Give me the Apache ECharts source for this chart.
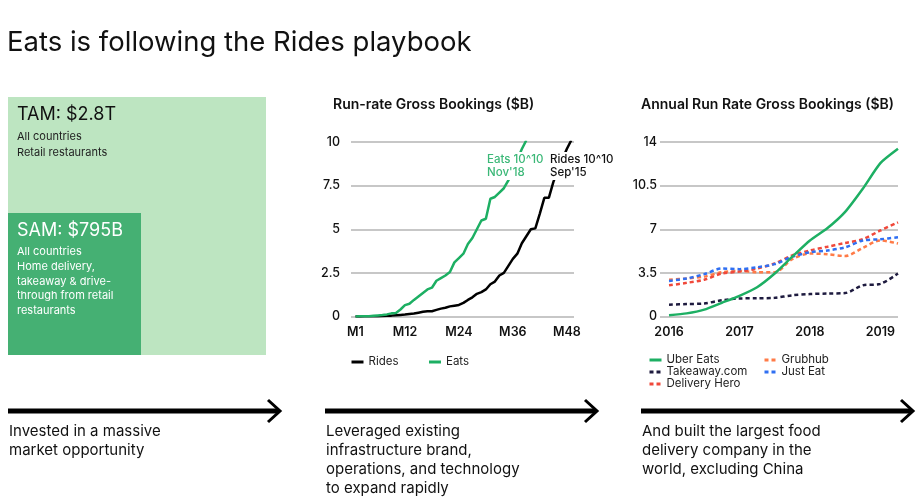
<!DOCTYPE html>
<html><head><meta charset="utf-8">
<script src="https://cdn.jsdelivr.net/npm/echarts@6/dist/echarts.min.js"></script>
<style>html,body{margin:0;padding:0;background:#fff}#c{width:921px;height:499px}</style>
</head><body><div id="c"></div>
<script>
// ---- Left panel: market sizes ($B)
const tamValue = 2800;
const samValue = 795;

// ---- Middle chart: monthly run-rate gross bookings ($B)
const months = [1,2,3,4,5,6,7,8,9,10,11,12,13,14,15,16,17,18,19,20,21,22,23,24,25,26,27,28,29,30,31,32,33,34,35,36,37,38,39,40,41,42,43,44,45,46,47,48,49];
const ridesValues = [0,0,0.01,0.01,0.02,0.02,0.03,0.04,0.05,0.07,0.09,0.11,0.14,0.17,0.22,0.27,0.3,0.3,0.38,0.45,0.5,0.58,0.62,0.66,0.78,0.95,1.1,1.3,1.4,1.55,1.85,2.0,2.35,2.5,2.9,3.3,3.6,4.2,4.6,5.0,5.05,5.9,6.8,6.8,7.7,8.4,9.0,9.6,10.1];
const eatsValues = [0,0.01,0.01,0.02,0.04,0.06,0.08,0.12,0.18,0.2,0.4,0.65,0.73,0.95,1.15,1.35,1.55,1.65,2.05,2.2,2.35,2.55,3.1,3.35,3.6,4.15,4.5,5.0,5.5,5.6,6.75,6.85,7.1,7.35,7.8,8.4,9.0,9.6,10.1];
const monthTicks = [1,12,24,36,48];

// ---- Right chart: quarterly annual run-rate gross bookings ($B)
const quarters = [2016,2016.25,2016.5,2016.75,2017,2017.25,2017.5,2017.75,2018,2018.25,2018.5,2018.75,2019,2019.25];
const uberEats = [0.1,0.25,0.55,1.1,1.66,2.35,3.45,4.8,6.1,7.1,8.4,10.25,12.3,13.45];
const takeaway = [0.95,1.0,1.05,1.3,1.45,1.46,1.5,1.7,1.8,1.84,1.88,2.5,2.62,3.45];
const deliveryHero = [2.5,2.7,2.95,3.45,3.6,3.85,4.25,4.9,5.3,5.6,5.9,6.2,6.9,7.55];
const grubhub = [2.95,3.05,3.2,3.55,3.65,3.55,3.55,4.6,5.05,5.0,4.85,5.5,6.1,5.85];
const justEat = [2.85,3.05,3.4,3.85,3.8,3.95,4.2,4.8,5.15,5.3,5.55,6.1,6.2,6.35];
const yearTicks = [2016,2017,2018,2019];

const FONT = 'Inter';
const GREEN = '#1daf63';
const pair = (xs, ys) => ys.map((v, i) => [xs[i], v]);

const chart = echarts.init(document.getElementById('c'), null, {renderer: 'canvas'});

// left panel geometry derived from values
const tamX = 8, tamBottom = 355, tamSide = 258;
const samW = 133;
const samH = (samValue / tamValue) * tamSide * tamSide / samW;

function txt(x, y, text, size, color, weight, extra) {
  return Object.assign({type: 'text', x, y, z: 100, style: Object.assign({
    text, fill: color, font: (weight || 400) + ' ' + size + 'px ' + FONT,
    textVerticalAlign: 'middle'
  }, extra || {})});
}
function arrow(x0, x1, y) {
  return [
    {type: 'line', z: 100, shape: {x1: x0, y1: y, x2: x1 - 2, y2: y}, style: {stroke: '#000', lineWidth: 5}},
    {type: 'polyline', z: 100, shape: {points: [[x1 - 12, y - 11], [x1, y], [x1 - 12, y + 11]]}, style: {stroke: '#000', lineWidth: 3, fill: null}}
  ];
}

const graphics = [
  txt(7, 43, 'Eats is following the Rides playbook', 27.5, '#111', 400),
  {type: 'rect', z: 50, shape: {x: tamX, y: tamBottom - tamSide, width: tamSide, height: tamSide}, style: {fill: '#bde5c1'}},
  {type: 'rect', z: 51, shape: {x: tamX, y: tamBottom - samH, width: samW, height: samH}, style: {fill: '#45b073'}},
  txt(17, 115, 'TAM: $' + (tamValue / 1000).toFixed(1) + 'T', 18, '#111', 400),
  txt(17, 137, 'All countries', 11, '#222', 400),
  txt(17, 153, 'Retail restaurants', 11, '#222', 400),
  txt(17, 231, 'SAM: $' + samValue + 'B', 18, '#fff', 400),
  txt(17, 252, 'All countries', 11, '#fff', 400),
  txt(17, 267, 'Home delivery,', 11, '#fff', 400),
  txt(17, 281.5, 'takeaway & drive-', 11, '#fff', 400),
  txt(17, 296, 'through from retail', 11, '#fff', 400),
  txt(17, 310.5, 'restaurants', 11, '#fff', 400),
  txt(333, 105, 'Run-rate Gross Bookings ($B)', 14, '#111', 600),
  txt(641, 105, 'Annual Run Rate Gross Bookings ($B)', 14, '#111', 600),
  txt(486, 166, "Eats 10^10\nNov'18", 11.5, '#3cb878', 500, {backgroundColor: '#fff', lineHeight: 13, padding: [1, 1, 1, 1]}),
  txt(549, 166, "Rides 10^10\nSep'15", 11.5, '#111', 500, {backgroundColor: '#fff', lineHeight: 13, padding: [1, 1, 1, 1]}),
  ...arrow(8, 280, 411),
  ...arrow(325, 597, 411),
  ...arrow(641, 913, 411),
  txt(9, 431, 'Invested in a massive', 15, '#111', 400),
  txt(9, 450, 'market opportunity', 15, '#111', 400),
  txt(326, 431, 'Leveraged existing', 15, '#111', 400),
  txt(326, 450, 'infrastructure brand,', 15, '#111', 400),
  txt(326, 469, 'operations, and technology', 15, '#111', 400),
  txt(326, 488, 'to expand rapidly', 15, '#111', 400),
  txt(642, 431, 'And built the largest food', 15, '#111', 400),
  txt(642, 450, 'delivery company in the', 15, '#111', 400),
  txt(642, 469, 'world, excluding China', 15, '#111', 400)
];

const yAxisCommon = {
  type: 'value', min: 0,
  axisLine: {show: false}, axisTick: {show: false},
  splitLine: {lineStyle: {color: '#b5b5b5', width: 1.5}},
  axisLabel: {color: '#111', fontFamily: FONT, fontSize: 12.5, fontWeight: 500}
};
const dash = [4, 3];
const legendCommon = {itemWidth: 12, itemHeight: 10, itemStyle: {opacity: 0}, lineStyle: {width: 3},
  textStyle: {fontFamily: FONT, fontSize: 11.5, color: '#222'}};

chart.setOption({
  animation: false,
  textStyle: {fontFamily: FONT},
  grid: [
    {left: 351, right: 921 - 574, top: 142, bottom: 499 - 316.5},
    {left: 660, right: 921 - 898, top: 142, bottom: 499 - 316.5}
  ],
  xAxis: [
    {type: 'value', gridIndex: 0, min: 0, max: 49.6,
      axisLine: {show: false}, axisTick: {show: false}, splitLine: {show: false},
      axisLabel: {customValues: monthTicks, formatter: v => 'M' + v, color: '#111', fontFamily: FONT, fontSize: 12.5, fontWeight: 600, margin: 9}},
    {type: 'value', gridIndex: 1, min: 2015.872, max: 2019.25,
      axisLine: {show: false}, axisTick: {show: false}, splitLine: {show: false},
      axisLabel: {customValues: yearTicks, formatter: v => String(v), color: '#111', fontFamily: FONT, fontSize: 12.5, fontWeight: 600, margin: 9}}
  ],
  yAxis: [
    Object.assign({}, yAxisCommon, {gridIndex: 0, max: 10, interval: 2.5, axisLabel: Object.assign({}, yAxisCommon.axisLabel, {margin: 11})}),
    Object.assign({}, yAxisCommon, {gridIndex: 1, max: 14, interval: 3.5, axisLabel: Object.assign({}, yAxisCommon.axisLabel, {margin: 3})})
  ],
  legend: [
    Object.assign({left: 345, top: 351, itemGap: 29, data: ['Rides', 'Eats']}, legendCommon),
    Object.assign({left: 643, top: 349, orient: 'vertical', itemGap: 0, data: ['Uber Eats', 'Takeaway.com', 'Delivery Hero']}, legendCommon),
    Object.assign({left: 758, top: 349, orient: 'vertical', itemGap: 0, data: ['Grubhub', 'Just Eat']}, legendCommon)
  ],
  graphic: graphics,
  series: [
    {name: 'Rides', type: 'line', xAxisIndex: 0, yAxisIndex: 0, data: pair(months, ridesValues), symbol: 'none',
      lineStyle: {color: '#000', width: 2.5}, itemStyle: {color: '#000'}},
    {name: 'Eats', type: 'line', xAxisIndex: 0, yAxisIndex: 0, data: pair(months, eatsValues), symbol: 'none',
      lineStyle: {color: GREEN, width: 2.5}, itemStyle: {color: GREEN}},
    {name: 'Takeaway.com', type: 'line', xAxisIndex: 1, yAxisIndex: 1, data: pair(quarters, takeaway), symbol: 'none', smooth: 0.3,
      lineStyle: {color: '#1e1b3f', width: 2.5, type: dash}, itemStyle: {color: '#1e1b3f'}},
    {name: 'Grubhub', type: 'line', xAxisIndex: 1, yAxisIndex: 1, data: pair(quarters, grubhub), symbol: 'none', smooth: 0.3,
      lineStyle: {color: '#ff7b47', width: 2.5, type: dash}, itemStyle: {color: '#ff7b47'}},
    {name: 'Delivery Hero', type: 'line', xAxisIndex: 1, yAxisIndex: 1, data: pair(quarters, deliveryHero), symbol: 'none', smooth: 0.3,
      lineStyle: {color: '#f0483a', width: 2.5, type: dash}, itemStyle: {color: '#f0483a'}},
    {name: 'Just Eat', type: 'line', xAxisIndex: 1, yAxisIndex: 1, data: pair(quarters, justEat), symbol: 'none', smooth: 0.3,
      lineStyle: {color: '#2f6ff2', width: 2.5, type: dash}, itemStyle: {color: '#2f6ff2'}},
    {name: 'Uber Eats', type: 'line', xAxisIndex: 1, yAxisIndex: 1, data: pair(quarters, uberEats), symbol: 'none', smooth: 0.2,
      lineStyle: {color: GREEN, width: 2.5}, itemStyle: {color: GREEN}}
  ]
});
</script></body></html>
